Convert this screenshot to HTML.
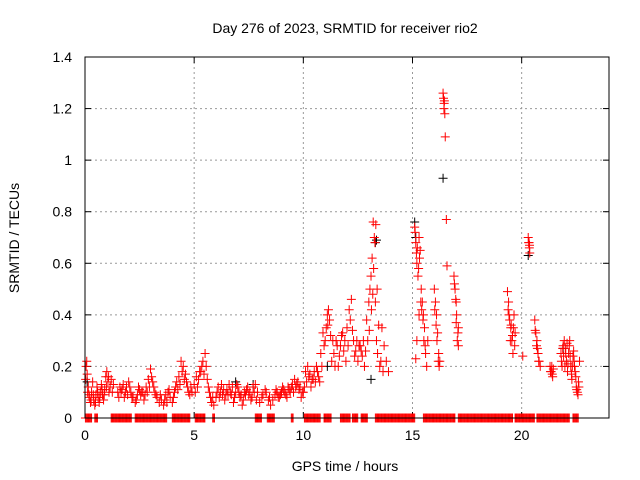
<!DOCTYPE html>
<html><head><meta charset="utf-8"><style>
html,body{margin:0;padding:0;background:#fff}
svg{display:block;font-family:"Liberation Sans",sans-serif}
</style></head><body>
<svg id="chart" width="640" height="480">
<text x="345" y="33" font-size="14" text-anchor="middle">Day 276 of 2023, SRMTID for receiver rio2</text>
<text x="0" y="0" font-size="14" text-anchor="middle" transform="translate(19,238) rotate(-90)">SRMTID / TECUs</text>
<text x="345" y="471" font-size="14" text-anchor="middle">GPS time / hours</text>
<g id="grid"></g>
<g id="ticks"></g>
<g id="zero"></g>
<g id="black"></g>
<g id="red"></g>
<rect x="85" y="57" width="524" height="361" fill="none" stroke="#000" stroke-width="1"/>
</svg>
<script>
const xTicks=[0,5,10,15,20];
const yTicks=[0,0.2,0.4,0.6,0.8,1,1.2,1.4];
const yTickLabels=["0","0.2","0.4","0.6","0.8","1","1.2","1.4"];
const zeroSegments=[[0.02,0.3],[0.45,0.6],[1.2,2.15],[2.3,3.76],[4.0,4.8],[5.05,5.5],[5.85,5.95],[7.8,8.1],[8.35,8.7],[9.45,9.55],[10.05,10.8],[10.95,11.3],[11.7,12.15],[12.25,12.5],[12.65,12.95],[13.3,15.1],[15.5,16.95],[17.1,19.6],[19.7,20.6],[20.7,22.2],[22.35,22.6]];
const redT=[0.05,0.08,0.1,0.15,0.2,0.25,0.3,0.35,0.4,0.45,0.5,0.55,0.6,0.65,0.7,0.75,0.8,0.85,0.9,0.95,1.0,1.05,1.1,1.2,1.3,1.5,1.6,1.7,1.8,1.9,2.0,2.1,2.2,2.3,2.4,2.5,2.6,2.7,2.8,2.9,3.0,3.1,3.2,3.3,3.4,3.5,3.6,3.7,3.8,3.9,4.0,4.1,4.2,4.3,4.4,4.5,4.6,4.7,4.8,4.9,5.0,5.1,5.2,5.3,5.4,5.5,5.6,5.7,5.8,5.9,6.0,6.1,6.2,6.3,6.4,6.5,6.6,6.7,6.8,6.9,7.0,7.1,7.2,7.3,7.4,7.5,7.6,7.7,7.8,7.9,8.0,8.1,8.3,8.4,8.5,8.7,8.8,8.9,9.0,9.1,9.2,9.3,9.4,9.5,9.6,9.7,9.8,9.9,10.0,10.1,10.2,10.3,10.4,10.5,10.6,10.7,10.8,10.9,11.0,11.1,11.15,11.2,11.3,11.4,11.5,11.6,11.7,11.8,11.9,12.0,12.1,12.2,12.3,12.4,12.5,12.6,12.7,12.8,12.9,13.0,13.05,13.1,13.15,13.2,13.25,13.3,13.35,13.4,13.5,13.6,13.7,13.8,13.9,15.1,15.15,15.2,15.25,15.3,15.35,15.4,15.45,15.5,15.55,15.6,15.65,15.7,15.2,15.3,15.15,16.0,16.05,16.1,16.15,16.2,16.25,16.4,16.42,16.45,16.48,16.5,16.55,16.58,16.9,16.95,17.0,17.0,17.05,17.1,17.1,19.35,19.4,19.45,19.5,19.55,19.6,19.65,19.7,20.05,20.3,20.32,20.35,20.37,20.6,20.65,20.7,20.75,20.8,20.85,21.3,21.35,21.4,21.45,21.8,21.85,21.9,21.95,22.0,22.05,22.1,22.15,22.2,22.25,22.3,22.35,22.4,22.45,22.5,22.55,22.6,22.65];
const redV=[0.2,0.22,0.17,0.12,0.08,0.06,0.1,0.14,0.07,0.05,0.09,0.12,0.08,0.06,0.1,0.13,0.09,0.07,0.11,0.16,0.18,0.14,0.1,0.15,0.13,0.1,0.12,0.11,0.08,0.12,0.14,0.1,0.08,0.06,0.09,0.11,0.1,0.07,0.12,0.15,0.19,0.14,0.1,0.08,0.06,0.07,0.05,0.09,0.1,0.08,0.06,0.1,0.14,0.16,0.22,0.2,0.17,0.12,0.09,0.1,0.13,0.16,0.15,0.18,0.22,0.25,0.15,0.1,0.06,0.05,0.08,0.12,0.1,0.09,0.07,0.11,0.13,0.09,0.06,0.1,0.12,0.08,0.05,0.1,0.11,0.09,0.07,0.12,0.13,0.1,0.06,0.08,0.1,0.07,0.05,0.09,0.1,0.08,0.1,0.11,0.09,0.12,0.1,0.13,0.15,0.13,0.11,0.08,0.1,0.18,0.2,0.17,0.15,0.18,0.2,0.16,0.25,0.33,0.3,0.4,0.42,0.38,0.22,0.25,0.3,0.2,0.28,0.33,0.3,0.35,0.42,0.46,0.3,0.26,0.22,0.28,0.24,0.2,0.38,0.45,0.5,0.55,0.62,0.76,0.7,0.45,0.3,0.25,0.2,0.35,0.28,0.22,0.18,0.74,0.68,0.6,0.55,0.7,0.65,0.5,0.45,0.4,0.35,0.25,0.2,0.3,0.3,0.4,0.23,0.5,0.45,0.4,0.33,0.25,0.22,1.26,1.24,1.22,1.18,1.09,0.77,0.59,0.55,0.5,0.45,0.37,0.3,0.28,0.35,0.49,0.45,0.38,0.35,0.3,0.25,0.4,0.33,0.24,0.7,0.68,0.66,0.64,0.38,0.33,0.3,0.25,0.22,0.2,0.2,0.18,0.17,0.19,0.25,0.2,0.28,0.3,0.27,0.22,0.18,0.25,0.3,0.2,0.15,0.24,0.22,0.18,0.12,0.1,0.14,0.22];
const redT2=[0.03,0.12,0.18,0.28,0.38,0.48,0.58,0.68,0.78,0.88,0.98,1.08,1.15,1.25,1.55,1.65,1.75,1.85,1.95,2.05,2.15,2.35,2.45,2.55,2.65,2.75,2.85,2.95,3.05,3.15,3.25,3.45,3.65,3.75,3.85,4.05,4.15,4.25,4.35,4.45,4.55,4.65,4.75,4.85,5.05,5.15,5.25,5.35,5.45,5.55,5.65,5.75,5.85,6.05,6.15,6.25,6.35,6.45,6.55,6.65,6.75,6.85,6.95,7.05,7.15,7.25,7.35,7.45,7.55,7.65,7.75,7.85,8.15,8.25,8.45,8.6,8.75,8.85,8.95,9.05,9.15,9.25,9.35,9.45,9.55,9.65,9.75,9.85,9.95,10.05,10.15,10.25,10.35,10.45,10.55,10.65,10.75,10.85,10.95,11.05,11.12,11.25,11.35,11.45,11.55,11.65,11.75,11.85,11.95,12.05,12.15,12.25,12.35,12.45,12.55,12.65,12.75,12.85,12.95,13.02,13.12,13.18,13.22,13.28,13.32,13.38,13.45,13.55,13.65,15.12,15.18,15.22,15.28,15.32,15.38,15.42,15.48,15.52,15.58,16.02,16.08,16.12,16.18,16.22,16.44,16.46,16.92,16.98,17.02,17.08,19.38,19.42,19.48,19.52,19.58,19.62,19.68,20.34,20.36,20.62,20.68,20.72,20.78,21.32,21.38,21.42,21.82,21.88,21.92,21.98,22.02,22.08,22.12,22.18,22.22,22.28,22.32,22.38,22.42,22.48,22.52,22.58,22.62];
const redV2=[0.15,0.1,0.09,0.07,0.09,0.06,0.1,0.08,0.11,0.09,0.12,0.16,0.12,0.1,0.08,0.1,0.13,0.1,0.09,0.12,0.08,0.07,0.12,0.09,0.1,0.09,0.1,0.12,0.16,0.12,0.09,0.09,0.07,0.06,0.11,0.08,0.12,0.11,0.13,0.18,0.15,0.14,0.1,0.12,0.1,0.12,0.18,0.2,0.17,0.2,0.12,0.08,0.08,0.1,0.08,0.13,0.11,0.09,0.09,0.1,0.12,0.08,0.13,0.1,0.09,0.07,0.09,0.12,0.1,0.08,0.1,0.07,0.09,0.11,0.08,0.07,0.11,0.08,0.09,0.12,0.1,0.08,0.11,0.12,0.1,0.12,0.14,0.12,0.1,0.12,0.14,0.16,0.12,0.15,0.14,0.18,0.14,0.2,0.28,0.35,0.36,0.32,0.3,0.2,0.28,0.24,0.32,0.26,0.22,0.28,0.38,0.34,0.24,0.3,0.28,0.26,0.3,0.26,0.3,0.34,0.42,0.48,0.58,0.68,0.75,0.5,0.36,0.22,0.18,0.72,0.64,0.66,0.58,0.62,0.45,0.42,0.38,0.3,0.28,0.42,0.36,0.3,0.22,0.2,1.2,1.23,0.52,0.46,0.4,0.33,0.42,0.4,0.3,0.36,0.32,0.35,0.28,0.68,0.67,0.34,0.28,0.27,0.22,0.18,0.2,0.16,0.22,0.27,0.24,0.2,0.25,0.29,0.21,0.28,0.24,0.17,0.2,0.26,0.2,0.16,0.11,0.09,0.12];
const blackT=[13.3,16.4,20.3,15.1,13.1,6.9,0.1,11.1,13.35,15.15,7.7,21.9];
const blackV=[0.68,0.93,0.63,0.76,0.15,0.14,0.14,0.2,0.69,0.7,0.13,0.27];
const NS="http://www.w3.org/2000/svg";
const X0=85,X1=609,Y0=418,Y1=57,XMAX=24,YMAX=1.4;
function xs(t){return X0+(X1-X0)*t/XMAX;}
function ys(v){return Y0-(Y0-Y1)*v/YMAX;}
function mk(tag,at,parent){const e=document.createElementNS(NS,tag);for(const k in at)e.setAttribute(k,at[k]);parent.appendChild(e);return e;}
const grid=document.getElementById('grid'),ticks=document.getElementById('ticks');
xTicks.forEach(t=>{
 const x=xs(t);
 if(t>0){const g=mk('line',{x1:x,y1:Y1,x2:x,y2:Y0,stroke:'#999','stroke-dasharray':'2,3'},grid);
 
 }
 mk('line',{x1:x,y1:Y0,x2:x,y2:Y0-6,stroke:'#000'},ticks);
 mk('line',{x1:x,y1:Y1,x2:x,y2:Y1+6,stroke:'#000'},ticks);
 const l=mk('text',{x:x,y:Y0+22,'font-size':14,'text-anchor':'middle'},ticks);l.textContent=t;
 
 
});
yTicks.forEach((v,i)=>{
 const y=ys(v);
 if(v>0&&v<YMAX){const g=mk('line',{x1:X0,y1:y,x2:X1,y2:y,stroke:'#999','stroke-dasharray':'2,3'},grid);
 
 }
 mk('line',{x1:X0,y1:y,x2:X0+6,y2:y,stroke:'#000'},ticks);
 mk('line',{x1:X1,y1:y,x2:X1-6,y2:y,stroke:'#000'},ticks);
 const l=mk('text',{x:X0-13,y:y+5,'font-size':14,'text-anchor':'end'},ticks);l.textContent=yTickLabels[i];
 
 
});
function plus(g,t,v,c){
 const x=xs(t),y=ys(v);
 const p=mk('path',{d:`M${x-4.5},${y}H${x+4.5}M${x},${y-4.5}V${y+4.5}`,stroke:c,'stroke-width':1,fill:'none'},g);
 
 
}
const zg=document.getElementById('zero');
zeroSegments.forEach(s=>{for(let t=s[0];t<=s[1]+1e-9;t+=0.04)plus(zg,t,0,'#f00');});
const bg=document.getElementById('black');
blackT.forEach((t,i)=>plus(bg,t,blackV[i],'#000'));
const rg=document.getElementById('red');
redT.forEach((t,i)=>plus(rg,t,redV[i],'#f00'));
redT2.forEach((t,i)=>plus(rg,t,redV2[i],'#f00'));
</script>
</body></html>
